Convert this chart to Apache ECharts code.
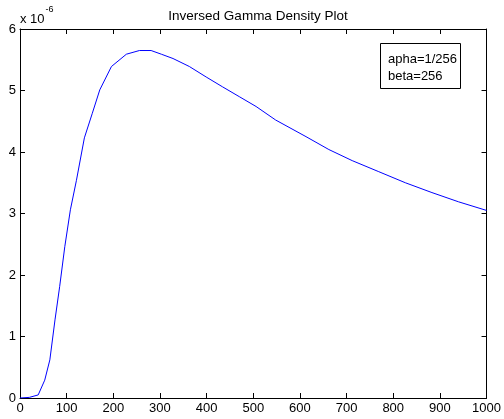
<!DOCTYPE html>
<html><head><meta charset="utf-8">
<script src="https://cdn.jsdelivr.net/npm/echarts@6/dist/echarts.min.js"></script>
<style>html,body{margin:0;padding:0;background:#fff}#c{width:504px;height:419px}</style>
</head><body><div id="c"></div>
<script>
const titleText = 'Inversed Gamma Density Plot';
const legendLines = ['apha=1/256', 'beta=256'];
const xTicks = [0,100,200,300,400,500,600,700,800,900,1000];
const yTicks = [0,1,2,3,4,5,6];
// density values in units of 1e-6
const xVals = [0, 20, 39, 53, 64, 75, 85, 96, 108, 121, 138, 155, 171, 196, 228, 256, 281, 303, 328, 363, 399, 434, 470, 506, 548, 613, 662, 712, 769, 826, 883, 940, 1000];
const yVals = [0, 0.01, 0.05, 0.29, 0.62, 1.27, 1.81, 2.46, 3.06, 3.54, 4.23, 4.63, 5.01, 5.39, 5.59, 5.65, 5.65, 5.59, 5.52, 5.39, 5.22, 5.06, 4.90, 4.74, 4.52, 4.25, 4.04, 3.86, 3.68, 3.50, 3.34, 3.19, 3.05];

const chart = echarts.init(document.getElementById('c'), null, {renderer:'canvas'});
const font = 'Liberation Sans, Arial, sans-serif';
const axisCommon = {
  min: 0,
  axisLine: {show: true, onZero: false, lineStyle: {color: '#000', width: 1}},
  axisTick: {show: true, inside: true, length: 5, lineStyle: {color: '#000'}},
  splitLine: {show: false}
};
chart.setOption({
  animation: false,
  backgroundColor: '#fff',
  title: {text: titleText, left: 253, textAlign: 'center', top: 4,
    textStyle: {fontFamily: font, fontSize: 13.5, fontWeight: 'normal', color: '#000'}},
  grid: {left: 20, right: 16, top: 29, bottom: 21, show: false},
  xAxis: [
    Object.assign({}, axisCommon, {type: 'value', position: 'bottom', max: 1000, interval: 100,
      axisLabel: {color: '#000', fontFamily: font, fontSize: 13, margin: 4, showMinLabel: true, showMaxLabel: true,
        formatter: v => String(v)}}),
    Object.assign({}, axisCommon, {type: 'value', position: 'top', max: 1000, interval: 100, axisLabel: {show: false}})
  ],
  yAxis: [
    Object.assign({}, axisCommon, {type: 'value', position: 'left', max: 6, interval: 1,
      axisLabel: {color: '#000', fontFamily: font, fontSize: 13, margin: 4, formatter: v => String(v)}}),
    Object.assign({}, axisCommon, {type: 'value', position: 'right', max: 6, interval: 1, axisLabel: {show: false}})
  ],
  graphic: [
    {type: 'text', left: 20, top: 5, style: {
      text: '{a|x 10}{b|-6}', rich: {
        a: {fontFamily: font, fontSize: 13, fill: '#000', padding: [8,0,0,0]},
        b: {fontFamily: font, fontSize: 9, fill: '#000', verticalAlign: 'top', padding: [0,0,0,1]}
      }}},
    {type: 'rect', shape: {x: 380.5, y: 43.5, width: 80, height: 45}, style: {fill: '#fff', stroke: '#000', lineWidth: 1}, z: 10},
    {type: 'text', x: 388, y: 51, style: {text: legendLines.join('\n'), fontFamily: font, fontSize: 13, lineHeight: 17, fill: '#000'}, z: 11}
  ],
  series: [{
    type: 'line', xAxisIndex: 0, yAxisIndex: 0, showSymbol: false, symbol: 'none',
    lineStyle: {color: '#0000ff', width: 1}, data: xVals.map((x, i) => [x, yVals[i]])
  }]
});
</script></body></html>
